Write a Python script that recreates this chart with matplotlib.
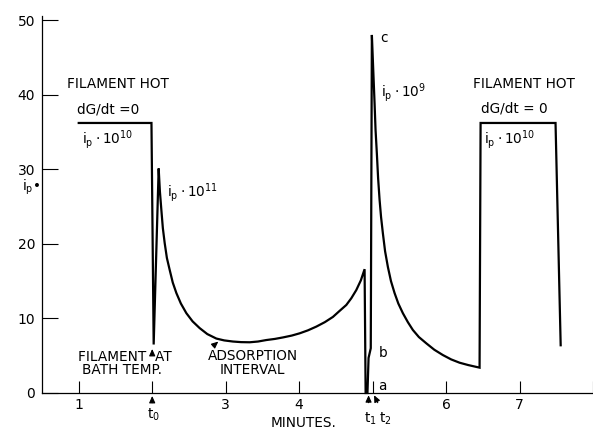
import matplotlib
matplotlib.use("Agg")
import matplotlib.pyplot as plt

plt.rcParams['font.family'] = ['DejaVu Sans']

# Ion current trace, read as (minutes, i_p) points, segment by segment
hot1_x = [1.0, 1.99]
hot1_y = [36.2, 36.2]

spike1_x = [1.99, 2.02, 2.088]
spike1_y = [36.2, 6.5, 30.1]

decay1_x = [2.088, 2.105, 2.125, 2.145, 2.170, 2.20, 2.238, 2.28, 2.329,
            2.39, 2.465, 2.55, 2.646, 2.75, 2.873, 2.98, 3.099, 3.21,
            3.327, 3.44, 3.554, 3.67, 3.780, 3.90, 4.007, 4.12, 4.234,
            4.35, 4.460, 4.55, 4.642, 4.71, 4.778, 4.84, 4.891]
decay1_y = [30.1, 27.0, 24.5, 22.1, 20.1, 18.1, 16.5, 14.8, 13.4,
            12.0, 10.7, 9.6, 8.7, 7.9, 7.3, 7.05, 6.9, 6.82,
            6.8, 6.9, 7.1, 7.25, 7.45, 7.7, 8.0, 8.4, 8.9,
            9.5, 10.2, 11.0, 11.8, 12.7, 13.8, 15.1, 16.6]

flash_x = [4.891, 4.905, 4.93, 4.945, 4.975, 4.99]
flash_y = [16.6, 0.0, 0.0, 4.7, 6.0, 48.0]

decay2_x = [4.99, 5.01, 5.027, 5.04, 5.058, 5.075, 5.095, 5.115, 5.140,
            5.17, 5.208, 5.25, 5.299, 5.35, 5.412, 5.48, 5.548, 5.63,
            5.731, 5.84, 5.956, 6.07, 6.184, 6.30, 6.411, 6.456]
decay2_y = [48.0, 43.0, 38.8, 35.3, 32.1, 28.8, 25.9, 23.6, 21.4,
            19.0, 16.9, 15.0, 13.4, 12.0, 10.7, 9.5, 8.45, 7.5,
            6.66, 5.8, 5.09, 4.5, 4.06, 3.75, 3.5, 3.4]

hot2_x = [6.456, 6.47, 7.49, 7.56]
hot2_y = [3.4, 36.2, 36.2, 6.4]

x_ticks = [1, 2, 3, 4, 5, 6, 7, 8]
x_tick_labels = ['1', '', '3', '4', '', '6', '7', '']
y_ticks = [0, 10, 20, 30, 40, 50]
y_tick_labels = ['0', '10', '20', '30', '40', '50']

fig = plt.figure(figsize=(5.93, 4.29), dpi=100)
ax = fig.add_axes([42 / 593, 36 / 429, 551 / 593, 376.7 / 429])

trace_x = hot1_x + spike1_x + decay1_x + flash_x + decay2_x + hot2_x
trace_y = hot1_y + spike1_y + decay1_y + flash_y + decay2_y + hot2_y
ax.plot(trace_x, trace_y, color='black', lw=1.6, solid_joinstyle='miter',
        clip_on=False)

ax.set_xlim(0.5, 8.0)
ax.set_ylim(0, 50.5)
for s in ('top', 'right'):
    ax.spines[s].set_visible(False)
for s in ('left', 'bottom'):
    ax.spines[s].set_linewidth(0.9)

ax.set_xticks(x_ticks)
ax.set_xticklabels(x_tick_labels)
ax.set_yticks(y_ticks)
ax.set_yticklabels(y_tick_labels)
ax.tick_params(axis='x', direction='in', length=9, width=0.8, pad=3.5,
               labelsize=10)
ax.tick_params(axis='y', direction='in', length=11.5, width=0.8, pad=5,
               labelsize=10)

fs = 9.8
txt = dict(fontsize=fs, color='black', clip_on=False)

# Left hot-filament annotations
ax.text(0.837, 41.4, 'FILAMENT HOT', ha='left', va='center', **txt)
ax.text(0.975, 38.0, 'dG/dt =0', ha='left', va='center', **txt)
ax.text(1.04, 34.0, r'$\mathregular{i_p \cdot 10^{10}}$', ha='left',
        va='center', **txt)
ax.text(2.20, 26.9, r'$\mathregular{i_p \cdot 10^{11}}$', ha='left',
        va='center', **txt)

# Flash peak annotations
ax.text(5.11, 47.6, 'c', ha='left', va='center', **txt)
ax.text(5.12, 40.3, r'$\mathregular{i_p \cdot 10^{9}}$', ha='left',
        va='center', **txt)
ax.text(5.08, 5.4, 'b', ha='left', va='center', **txt)
ax.text(5.08, 0.9, 'a', ha='left', va='center', **txt)

# Right hot-filament annotations
ax.text(6.36, 41.4, 'FILAMENT HOT', ha='left', va='center', **txt)
ax.text(6.47, 38.2, 'dG/dt = 0', ha='left', va='center', **txt)
ax.text(6.52, 34.0, r'$\mathregular{i_p \cdot 10^{10}}$', ha='left',
        va='center', **txt)

# Cold-filament and adsorption labels
ax.text(0.99, 4.8, 'FILAMENT  AT', ha='left', va='center', **txt)
ax.text(1.04, 3.1, 'BATH TEMP.', ha='left', va='center', **txt)
ax.text(3.37, 4.9, 'ADSORPTION', ha='center', va='center', **txt)
ax.text(3.37, 3.1, 'INTERVAL', ha='center', va='center', **txt)

arrow = dict(arrowstyle='-|>,head_length=0.4,head_width=0.18', color='black',
             lw=0.8, shrinkA=0, shrinkB=0)
ax.annotate('', xy=(2.90, 6.9), xytext=(2.83, 6.3), arrowprops=arrow,
            annotation_clip=False)
ax.annotate('', xy=(2.0, 5.9), xytext=(2.0, 5.1), arrowprops=arrow,
            annotation_clip=False)
ax.annotate('', xy=(2.0, -0.4), xytext=(2.0, -1.3), arrowprops=arrow,
            annotation_clip=False)
ax.annotate('', xy=(4.945, -0.3), xytext=(4.945, -1.3), arrowprops=arrow,
            annotation_clip=False)
ax.annotate('', xy=(5.02, -0.3), xytext=(5.07, -1.3), arrowprops=arrow,
            annotation_clip=False)

# Time markers and axis titles
ax.text(2.02, -2.9, r'$\mathregular{t_0}$', ha='center', va='center', **txt)
ax.text(4.97, -3.5, r'$\mathregular{t_1}$', ha='center', va='center', **txt)
ax.text(5.17, -3.5, r'$\mathregular{t_2}$', ha='center', va='center', **txt)
ax.text(4.06, -4.0, 'MINUTES.', ha='center', va='center', **txt)
fig.text(22 / 593, 1 - 187 / 429, r'$\mathregular{i_p}$•', ha='left',
         va='center', fontsize=fs)

fig.savefig('out.png', dpi=100, facecolor='white')
